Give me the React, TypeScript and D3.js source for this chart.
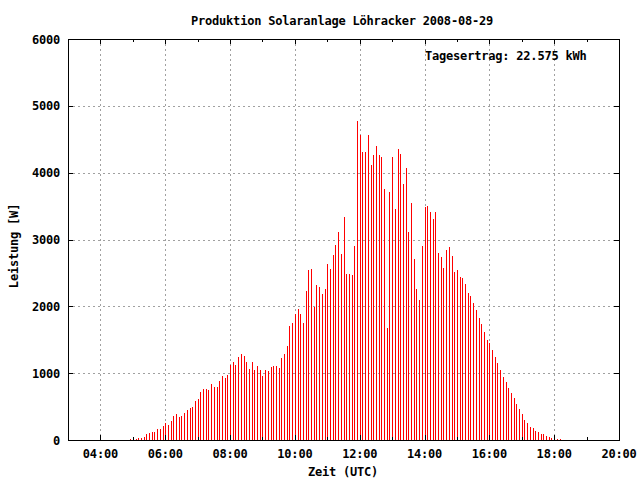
import React from "react";
import * as d3 from "d3";

const TITLE = "Produktion Solaranlage Löhracker 2008-08-29";
const X_LABEL = "Zeit (UTC)";
const Y_LABEL = "Leistung [W]";
const ANNOTATION = "Tagesertrag: 22.575 kWh";

const times: string[] = [
  "04:55",
  "05:00", "05:05", "05:10", "05:15", "05:20", "05:25", "05:30", "05:35", "05:40", "05:45", "05:50", "05:55",
  "06:00", "06:05", "06:10", "06:15", "06:20", "06:25", "06:30", "06:35", "06:40", "06:45", "06:50", "06:55",
  "07:00", "07:05", "07:10", "07:15", "07:20", "07:25", "07:30", "07:35", "07:40", "07:45", "07:50", "07:55",
  "08:00", "08:05", "08:10", "08:15", "08:20", "08:25", "08:30", "08:35", "08:40", "08:45", "08:50", "08:55",
  "09:00", "09:05", "09:10", "09:15", "09:20", "09:25", "09:30", "09:35", "09:40", "09:45", "09:50", "09:55",
  "10:00", "10:05", "10:10", "10:15", "10:20", "10:25", "10:30", "10:35", "10:40", "10:45", "10:50", "10:55",
  "11:00", "11:05", "11:10", "11:15", "11:20", "11:25", "11:30", "11:35", "11:40", "11:45", "11:50", "11:55",
  "12:00", "12:05", "12:10", "12:15", "12:20", "12:25", "12:30", "12:35", "12:40", "12:45", "12:50", "12:55",
  "13:00", "13:05", "13:10", "13:15", "13:20", "13:25", "13:30", "13:35", "13:40", "13:45", "13:50", "13:55",
  "14:00", "14:05", "14:10", "14:15", "14:20", "14:25", "14:30", "14:35", "14:40", "14:45", "14:50", "14:55",
  "15:00", "15:05", "15:10", "15:15", "15:20", "15:25", "15:30", "15:35", "15:40", "15:45", "15:50", "15:55",
  "16:00", "16:05", "16:10", "16:15", "16:20", "16:25", "16:30", "16:35", "16:40", "16:45", "16:50", "16:55",
  "17:00", "17:05", "17:10", "17:15", "17:20", "17:25", "17:30", "17:35", "17:40", "17:45", "17:50", "17:55",
  "18:00", "18:05", "18:10",
];

const power: number[] = [
  15,
  20, 15, 30, 30, 45, 90, 105, 120, 120, 165, 165, 210,
  254, 224, 284, 359, 389, 344, 359, 404, 449, 479, 494, 583,
  613, 718, 763, 763, 748, 838, 793, 793, 883, 957, 928, 972,
  1122, 1167, 1122, 1242, 1286, 1257, 1167, 1062, 1167, 1047, 1107, 1047,
  957, 1047, 1032, 1092, 1104, 1104, 1075, 1224, 1284, 1403, 1701, 1746,
  1881, 1955, 1881, 1746, 2224, 2537, 2552, 1985, 2313, 2284, 2179, 2254,
  2627, 2552, 2761, 2925, 3119, 2776, 3343, 2478, 2478, 2463, 2910, 4776,
  4567, 4313, 4313, 4567, 4119, 4269, 4403, 4269, 4239, 3761, 1672, 3716,
  4239, 3463, 4358, 4284, 3836, 4075, 3119, 3552, 2701, 2254, 2090, 2910,
  3483, 3498, 3408, 3303, 3408, 2796, 2736, 2572, 2841, 2886, 2751, 2512,
  2542, 2438, 2423, 2333, 2199, 2154, 2050, 1945, 1826, 1736, 1617, 1498,
  1453, 1348, 1244, 1154, 1050, 945, 871, 781, 706, 632, 542, 468,
  393, 303, 259, 199, 184, 139, 124, 95, 95, 65, 50, 35,
  50, 20, 20,
];

const xDomain = ["03:00", "20:00"];
const xMajorTicks = ["04:00", "06:00", "08:00", "10:00", "12:00", "14:00", "16:00", "18:00", "20:00"];
const xMinorTicks = ["05:00", "07:00", "09:00", "11:00", "13:00", "15:00", "17:00", "19:00"];
const yTicks = [0, 1000, 2000, 3000, 4000, 5000, 6000];
const yDomain = [0, 6000];

const W = 640;
const H = 480;
const L = 68;
const R = 619;
const T = 39;
const B = 440;

const toHours = (s: string) => {
  const [h, m] = s.split(":").map(Number);
  return h + m / 60;
};

const FONT = "'DejaVu Sans Mono', 'Liberation Mono', monospace";

export default function App() {
  const x = d3.scaleLinear().domain(xDomain.map(toHours)).range([L, R]);
  const y = d3.scaleLinear().domain(yDomain).range([B, T]);
  const px = (v: number) => Math.round(v) + 0.5;
  const textStyle: React.CSSProperties = {
    fontFamily: FONT,
    fontWeight: "bold",
    fontSize: "12px",
    letterSpacing: "-0.2px",
    fill: "#000",
  };
  const grid = "#a0a0a0";
  const majorLen = 5;
  const minorLen = 3;

  return (
    <svg
      width={W}
      height={H}
      viewBox={`0 0 ${W} ${H}`}
      style={{ position: "absolute", left: 0, top: 0, display: "block", background: "#fff" }}
    >
      <rect x={0} y={0} width={W} height={H} fill="#fff" />
      {/* grid */}
      <g stroke={grid} strokeWidth={1} strokeDasharray="2,3" shapeRendering="crispEdges">
        {yTicks
          .filter((v) => v > yDomain[0] && v < yDomain[1])
          .map((v) => (
            <line key={`gy${v}`} x1={L} x2={R} y1={px(y(v))} y2={px(y(v))} />
          ))}
        {xMajorTicks
          .filter((t) => x(toHours(t)) < R - 1)
          .map((t) => (
            <line key={`gx${t}`} x1={px(x(toHours(t)))} x2={px(x(toHours(t)))} y1={T} y2={B} />
          ))}
      </g>
      {/* bars (impulses) */}
      <g fill="#ff0000" shapeRendering="crispEdges">
        {power.map((v, i) => {
          const cx = Math.round(x(toHours(times[i])));
          const top = Math.round(y(v));
          return <rect key={i} x={cx} y={top} width={1} height={Math.max(0, B - top)} />;
        })}
      </g>
      {/* border */}
      <rect
        x={L + 0.5}
        y={T + 0.5}
        width={R - L}
        height={B - T}
        fill="none"
        stroke="#000"
        strokeWidth={1}
        shapeRendering="crispEdges"
      />
      {/* ticks */}
      <g stroke="#000" strokeWidth={1} shapeRendering="crispEdges">
        {yTicks.map((v) => (
          <g key={`ty${v}`}>
            <line x1={L} x2={L + majorLen} y1={px(y(v))} y2={px(y(v))} />
            <line x1={R - majorLen} x2={R} y1={px(y(v))} y2={px(y(v))} />
          </g>
        ))}
        {xMajorTicks.map((t) => (
          <g key={`tx${t}`}>
            <line x1={px(x(toHours(t)))} x2={px(x(toHours(t)))} y1={B} y2={B - majorLen} />
            <line x1={px(x(toHours(t)))} x2={px(x(toHours(t)))} y1={T} y2={T + majorLen} />
          </g>
        ))}
        {xMinorTicks.map((t) => (
          <g key={`tm${t}`}>
            <line x1={px(x(toHours(t)))} x2={px(x(toHours(t)))} y1={B} y2={B - minorLen} />
            <line x1={px(x(toHours(t)))} x2={px(x(toHours(t)))} y1={T} y2={T + minorLen} />
          </g>
        ))}
      </g>
      {/* tick labels */}
      <g style={textStyle}>
        {yTicks.map((v) => (
          <text key={`ly${v}`} x={60} y={y(v) + 4.5} textAnchor="end">
            {String(v)}
          </text>
        ))}
        {xMajorTicks.map((t) => (
          <text key={`lx${t}`} x={x(toHours(t))} y={458} textAnchor="middle">
            {t}
          </text>
        ))}
      </g>
      <text x={342} y={25} textAnchor="middle" style={textStyle}>
        {TITLE}
      </text>
      <text x={343} y={476} textAnchor="middle" style={textStyle}>
        {X_LABEL}
      </text>
      <text
        transform={`translate(18, 246) rotate(-90)`}
        textAnchor="middle"
        style={textStyle}
      >
        {Y_LABEL}
      </text>
      <text x={425} y={60} textAnchor="start" style={textStyle}>
        {ANNOTATION}
      </text>
    </svg>
  );
}
